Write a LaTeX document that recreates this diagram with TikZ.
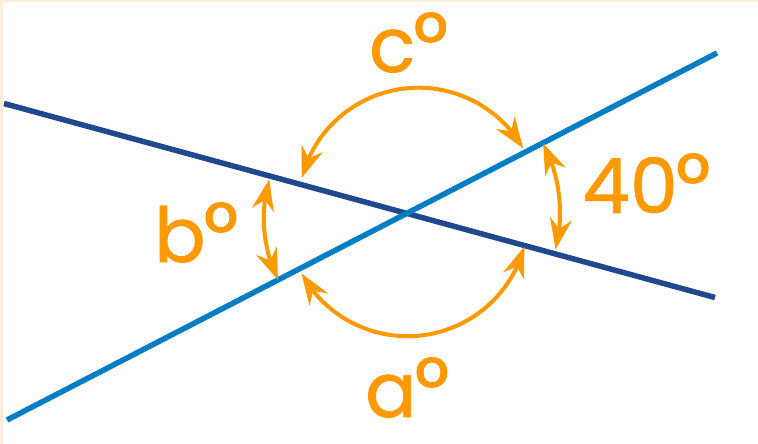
\documentclass[tikz,border=0pt]{standalone}
\usepackage{graphicx}
\usepackage{fontspec}
\setmainfont{Poppins}[FakeBold=1.0]
\usetikzlibrary{arrows.meta,bending}
\definecolor{orng}{RGB}{255,153,0}
\definecolor{darkb}{RGB}{31,73,140}
\definecolor{lightb}{RGB}{0,125,195}
\definecolor{cream}{RGB}{253,235,220}
\newcommand{\dgr}{\kern-2pt\scalebox{1.12}{°}}
\begin{document}
\begin{tikzpicture}[x=1pt,y=-1pt,
  lineA/.style={line width=5.5pt, draw=darkb},
  lineB/.style={line width=5.5pt, draw=lightb},
  angarc/.style={draw=orng, line width=4pt, {Stealth[length=31pt,width=22pt,inset=10pt]}-{Stealth[length=31pt,width=22pt,inset=10pt]}},
  lbl/.style={text=orng, font=\fontsize{76}{80}\selectfont, inner sep=0pt, anchor=base west}]
\fill[cream] (0,0) rectangle (758,444);
\fill[white] (3,2) rectangle (758,444);
\useasboundingbox (0,0) rectangle (758,444);
\coordinate (d1) at (4,103.5);
\coordinate (d2) at (715,297.5);
\coordinate (l1) at (7,420);
\coordinate (l2) at (717,53);
\draw[lineA] (d1) -- (d2);
\draw[lineB] (l1) -- (l2);
% c arc
\draw[angarc] (418.5,208.4) ++(-165.4:120.7) arc[start angle=-165.4, end angle=-29.8, radius=120.7];
% b arc
\draw[angarc] (406.6,218) ++(195.7:142.8) arc[start angle=195.7, end angle=154.3, radius=142.8];
% a arc
\draw[angarc] (407.5,215.2) ++(151.2:121) arc[start angle=151.2, end angle=15.1, radius=121];
% 40 arc
\draw[angarc] (407,213) ++(-27.1:153) arc[start angle=-27.1, end angle=13.8, radius=153];
\node[lbl] (c) at (369,72) {c\dgr};
\node[lbl] (b) at (154,262) {b\dgr};
\node[lbl] (a) at (365,417) {a\dgr};
\node[lbl] (f) at (582,213) {40\dgr};
\end{tikzpicture}
\end{document}
